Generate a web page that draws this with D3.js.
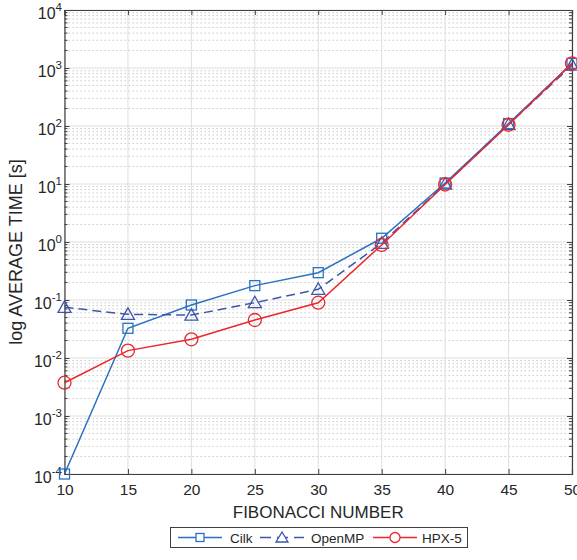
<!DOCTYPE html>
<html>
<head>
<meta charset="utf-8">
<script src="https://cdn.jsdelivr.net/npm/d3@7"></script>
<style>
  body { margin: 0; background: #fff; }
  text { font-family: "Liberation Sans", Arial, sans-serif; fill: #262626; }
</style>
</head>
<body>
<svg id="chart" width="577" height="560"></svg>
<script>
// data
const fibN = [10, 15, 20, 25, 30, 35, 40, 45, 50];
const cilk = [0.0001, 0.0325, 0.082, 0.177, 0.296, 1.16, 10.4, 110, 1200];
const openmp = [0.0748, 0.0566, 0.055, 0.0898, 0.153, 0.95, 10.0, 106, 1120];
const hpx = [0.00375, 0.0134, 0.021, 0.0452, 0.0898, 0.89, 9.8, 105, 1200];
const xTicks = [10, 15, 20, 25, 30, 35, 40, 45, 50];
const yExps = [-4, -3, -2, -1, 0, 1, 2, 3, 4];

const svg = d3.select("#chart");
const mLeft = 64.5, mRight = 572, mTop = 10, mBottom = 474;

const x = d3.scaleLinear().domain([10, 50]).range([mLeft, mRight]);
const y = d3.scaleLog().domain([1e-4, 1e4]).range([mBottom, mTop]);

//grid
const grid = svg.append("g");
yExps.slice(0, -1).forEach(e => {
  for (let k = 2; k <= 9; k++) {
    grid.append("line")
      .attr("x1", mLeft).attr("x2", mRight)
      .attr("y1", y(k * Math.pow(10, e))).attr("y2", y(k * Math.pow(10, e)))
      .attr("stroke", "#c8c8c8").attr("stroke-width", 1)
      .attr("stroke-dasharray", "1.5,2.5");
  }
});
yExps.forEach(e => {
  grid.append("line")
    .attr("x1", mLeft).attr("x2", mRight)
    .attr("y1", y(Math.pow(10, e))).attr("y2", y(Math.pow(10, e)))
    .attr("stroke", "#dedede").attr("stroke-width", 1);
});
xTicks.forEach(t => {
  grid.append("line")
    .attr("x1", x(t)).attr("x2", x(t))
    .attr("y1", mTop).attr("y2", mBottom)
    .attr("stroke", "#dedede").attr("stroke-width", 1);
});

//axes with inward ticks
const axisColor = "#404040";
const xb = svg.append("g").attr("transform", `translate(0,${mBottom})`)
  .call(d3.axisBottom(x).tickValues(xTicks).tickSize(-5).tickPadding(10).tickFormat(d3.format("d")));
const xt = svg.append("g").attr("transform", `translate(0,${mTop})`)
  .call(d3.axisTop(x).tickValues(xTicks).tickSize(-5).tickFormat(""));
const yl = svg.append("g").attr("transform", `translate(${mLeft},0)`)
  .call(d3.axisLeft(y).tickValues(yExps.map(e => Math.pow(10, e))).tickSize(-5).tickFormat(""));
const yr = svg.append("g").attr("transform", `translate(${mRight},0)`)
  .call(d3.axisRight(y).tickValues(yExps.map(e => Math.pow(10, e))).tickSize(-5).tickFormat(""));

// minor y ticks
[yl, yr].forEach((g, i) => {
  const sign = i === 0 ? 1 : -1;
  yExps.slice(0, -1).forEach(e => {
    for (let k = 2; k <= 9; k++) {
      g.append("line").attr("x1", 0).attr("x2", sign * 3)
        .attr("y1", y(k * Math.pow(10, e))).attr("y2", y(k * Math.pow(10, e)))
        .attr("stroke", axisColor);
    }
  });
});

[xb, xt, yl, yr].forEach(g => {
  g.select(".domain").attr("stroke", axisColor).attr("stroke-width", 1.2);
  g.selectAll(".tick line").attr("stroke", axisColor);
});
xb.selectAll(".tick text").attr("font-size", 15.5).attr("fill", "#262626")
  .style("font-family", "Liberation Sans, Arial, sans-serif");

// y tick labels with superscripts
yExps.forEach(e => {
  const t = svg.append("text")
    .attr("x", mLeft - 2.5).attr("y", y(Math.pow(10, e)) + 9)
    .attr("text-anchor", "end").attr("font-size", 16);
  t.append("tspan").text("10");
  t.append("tspan").attr("dy", -8).attr("font-size", 11.5).text(String(e));
});

// labels
svg.append("text").attr("x", x(30)).attr("y", 518)
  .attr("text-anchor", "middle").attr("font-size", 17).text("FIBONACCI NUMBER");
svg.append("text")
  .attr("transform", `translate(22,252) rotate(-90)`)
  .attr("text-anchor", "middle").attr("font-size", 18).text("log AVERAGE TIME [s]");

// series
const series = [
  { name: "Cilk", values: cilk, color: "#2a72c0", dash: null, marker: "square" },
  { name: "OpenMP", values: openmp, color: "#3d56aa", dash: "9,5", marker: "triangle" },
  { name: "HPX-5", values: hpx, color: "#e8282c", dash: null, marker: "circle" }
];

const line = d3.line().x(d => x(d[0])).y(d => y(d[1]));

function drawMarker(g, type, cx, cy, color) {
  if (type === "square") {
    g.append("rect").attr("x", cx - 5).attr("y", cy - 5).attr("width", 10).attr("height", 10)
      .attr("fill", "none").attr("stroke", color).attr("stroke-width", 1.3);
  } else if (type === "triangle") {
    g.append("path").attr("d", `M${cx},${cy - 6.5}L${cx + 6.5},${cy + 5}L${cx - 6.5},${cy + 5}Z`)
      .attr("fill", "none").attr("stroke", color).attr("stroke-width", 1.3);
  } else {
    g.append("circle").attr("cx", cx).attr("cy", cy).attr("r", 6.5)
      .attr("fill", "none").attr("stroke", color).attr("stroke-width", 1.3);
  }
}

series.forEach(s => {
  const pts = fibN.map((n, i) => [n, s.values[i]]);
  const g = svg.append("g");
  g.append("path").datum(pts).attr("d", line)
    .attr("fill", "none").attr("stroke", s.color).attr("stroke-width", 1.5)
    .attr("stroke-dasharray", s.dash);
  pts.forEach(p => drawMarker(g, s.marker, x(p[0]), y(p[1]), s.color));
});

// legend
const lg = svg.append("g");
lg.append("rect").attr("x", 170.5).attr("y", 527.5).attr("width", 297).attr("height", 20)
  .attr("fill", "#fff").attr("stroke", "#404040").attr("stroke-width", 1);
const legendPos = [
  { x1: 178, x2: 222, tx: 230 },
  { x1: 260, x2: 304, tx: 311 },
  { x1: 373, x2: 417, tx: 422 }
];
series.forEach((s, i) => {
  const p = legendPos[i], cy = 537.5, cx = (p.x1 + p.x2) / 2;
  lg.append("line").attr("x1", p.x1).attr("x2", p.x2).attr("y1", cy).attr("y2", cy)
    .attr("stroke", s.color).attr("stroke-width", 1.5).attr("stroke-dasharray", s.dash ? "11,6" : null);
  if (s.marker === "square") {
    lg.append("rect").attr("x", cx - 4).attr("y", cy - 4).attr("width", 8).attr("height", 8)
      .attr("fill", "#fff").attr("stroke", s.color).attr("stroke-width", 1.3);
  } else if (s.marker === "triangle") {
    lg.append("path").attr("d", `M${cx},${cy - 5.5}L${cx + 6},${cy + 4.5}L${cx - 6},${cy + 4.5}Z`)
      .attr("fill", "#fff").attr("stroke", s.color).attr("stroke-width", 1.3);
  } else {
    lg.append("circle").attr("cx", cx).attr("cy", cy).attr("r", 5)
      .attr("fill", "#fff").attr("stroke", s.color).attr("stroke-width", 1.3);
  }
  lg.append("text").attr("x", p.tx).attr("y", cy + 5).attr("font-size", 13.5).text(s.name);
});
</script>
</body>
</html>
